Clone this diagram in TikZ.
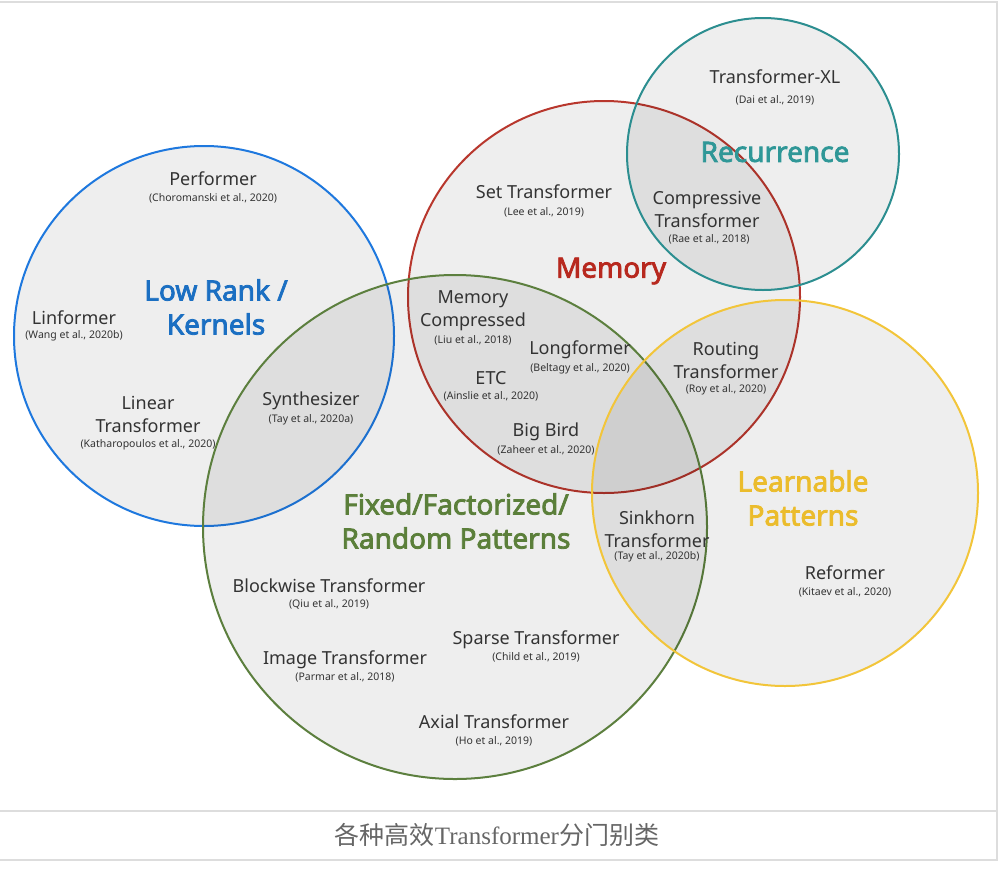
\documentclass[tikz,border=0pt]{standalone}
\usepackage{fontspec}
\setmainfont{Noto Sans}
\newfontfamily\headfont{Noto Sans}[FakeBold=2.8]
\newfontfamily\cjk{Noto Sans CJK SC}
\newfontfamily\capserif{Liberation Serif}
\usepackage{xcolor}

\definecolor{rankblue}{HTML}{1E78DE}
\definecolor{rankbluetext}{HTML}{1B6FC2}
\definecolor{memred}{HTML}{B8372D}
\definecolor{memredtext}{HTML}{B7281E}
\definecolor{recteal}{HTML}{2C8E90}
\definecolor{recteattext}{HTML}{2F9797}
\definecolor{fixgreen}{HTML}{5C7F3E}
\definecolor{fixgreentext}{HTML}{5B7F3A}
\definecolor{learnyellow}{HTML}{F2C53A}
\definecolor{learnyellowtext}{HTML}{EBBC2C}
\definecolor{inkgray}{HTML}{333333}
\definecolor{framegray}{HTML}{DDDDDD}

\tikzset{
    group/.style={line width=2pt, fill=black, fill opacity=0.065},
    paper/.style={text=inkgray, align=center, inner sep=0pt,
        font=\fontsize{18}{23}\selectfont},
    cite/.style={text=inkgray, inner sep=0pt,
        font=\fontsize{10.5}{12}\selectfont},
    family/.style={align=center, inner sep=0pt,
        font=\fontsize{28}{34}\selectfont\headfont}
}

\begin{document}
\begin{tikzpicture}[x=1pt, y=-1pt]
        \useasboundingbox (0,0) rectangle (1008,878);

        % frame
        \draw[framegray, line width=2pt] (0,1.5) -- (997,1.5) -- (997,860) -- (0,860);
        \draw[framegray, line width=2pt] (0,811) -- (997,811);

        % groups
        \draw[group, draw=rankblue] (204,336) circle (190);
        \draw[group, draw=memred] (604,297) circle (196);
        \draw[group, draw=recteal] (763,154) circle (136);
        \draw[group, draw=fixgreen] (455,527) circle (252);
        \draw[group, draw=learnyellow] (785,493) circle (193);

        % group names
        \node[family, text=rankbluetext] (lowrank) at (216,307) {Low Rank /\\Kernels};
        \node[family, text=memredtext] (memory) at (611,271) {Memory};
        \node[family, text=recteattext] (recurrence) at (775,152) {Recurrence};
        \node[family, text=fixgreentext] (fixed) at (456,521) {Fixed/Factorized/\\Random Patterns};
        \node[family, text=learnyellowtext] (learnable) at (803,498) {Learnable\\Patterns};

        % papers
        \node[paper] (txl) at (775,77) {Transformer-XL};
        \node[cite] (txlc) at (775,100) {(Dai et al., 2019)};
        \node[paper] (compr) at (707,209) {Compressive\\Transformer};
        \node[cite] (comprc) at (709,239) {(Rae et al., 2018)};
        \node[paper] (settr) at (544,192) {Set Transformer};
        \node[cite] (settrc) at (544,212) {(Lee et al., 2019)};
        \node[paper] (perf) at (213,179) {Performer};
        \node[cite] (perfc) at (213,198) {(Choromanski et al., 2020)};
        \node[paper] (linf) at (74,318) {Linformer};
        \node[cite] (linfc) at (74,336) {(Wang et al., 2020b)};
        \node[paper] (lintr) at (148,414) {Linear\\Transformer};
        \node[cite] (lintrc) at (148,445) {(Katharopoulos et al., 2020)};
        \node[paper] (synth) at (311,401) {Synthesizer};
        \node[cite] (synthc) at (311,420) {(Tay et al., 2020a)};
        \node[paper] (memc) at (473,311) {Memory\\Compressed};
        \node[cite] (memcc) at (473,340) {(Liu et al., 2018)};
        \node[paper] (longf) at (580,350) {Longformer};
        \node[cite] (longfc) at (580,369) {(Beltagy et al., 2020)};
        \node[paper] (etc) at (491,378) {ETC};
        \node[cite] (etcc) at (491,396) {(Ainslie et al., 2020)};
        \node[paper] (bigb) at (546,432) {Big Bird};
        \node[cite] (bigbc) at (546,450) {(Zaheer et al., 2020)};
        \node[paper] (rout) at (726,360) {Routing\\Transformer};
        \node[cite] (routc) at (726,390) {(Roy et al., 2020)};
        \node[paper] (sink) at (657,529) {Sinkhorn\\Transformer};
        \node[cite] (sinkc) at (657,557) {(Tay et al., 2020b)};
        \node[paper] (reform) at (845,573) {Reformer};
        \node[cite] (reformc) at (845,592) {(Kitaev et al., 2020)};
        \node[paper] (block) at (329,586) {Blockwise Transformer};
        \node[cite] (blockc) at (329,604) {(Qiu et al., 2019)};
        \node[paper] (sparse) at (536,640) {Sparse Transformer};
        \node[cite] (sparsec) at (536,657) {(Child et al., 2019)};
        \node[paper] (image) at (345,660) {Image Transformer};
        \node[cite] (imagec) at (345,677) {(Parmar et al., 2018)};
        \node[paper] (axial) at (494,722) {Axial Transformer};
        \node[cite] (axialc) at (494,741) {(Ho et al., 2019)};

        % caption
        \node[text=black!60, inner sep=0pt, font=\fontsize{25}{30}\selectfont] (caption) at (497,835)
            {{\cjk 各种高效}{\capserif Transformer}{\cjk 分门别类}};
    \end{tikzpicture}
\end{document}
